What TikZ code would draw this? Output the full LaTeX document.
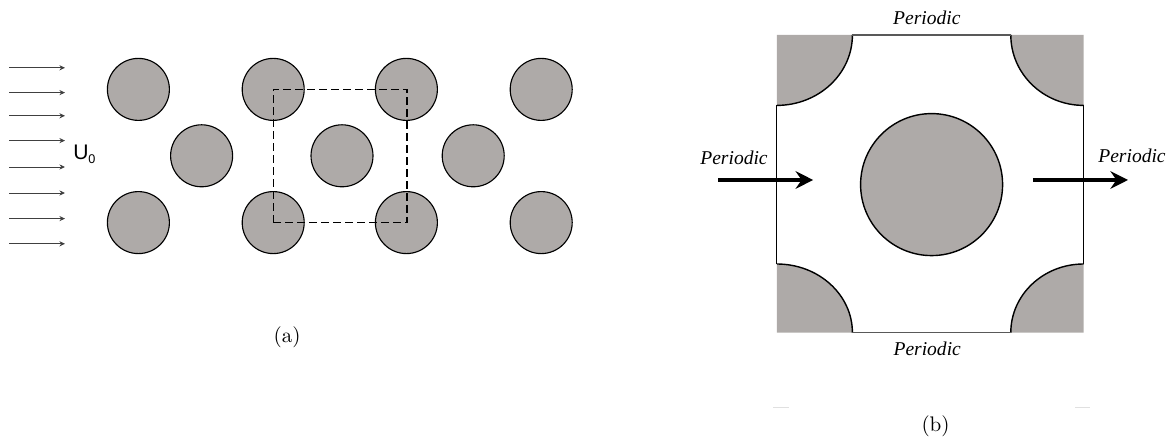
\documentclass[tikz,border=0pt]{standalone}
\usepackage{fontspec}
\usetikzlibrary{arrows.meta}
\newfontfamily\lblfont{Liberation Serif}
\newfontfamily\flowfont{Liberation Sans}
\definecolor{cylgray}{HTML}{AEAAA8}
\tikzset{
  cyl/.style={draw=black,fill=cylgray,line width=0.8pt},
  flow/.style={-{Stealth[length=1.4mm,width=1.3mm]},line width=0.6pt,black!75},
  bigflow/.style={-{Stealth[length=4.4mm,width=4.4mm,inset=1.5mm]},line width=2.5pt},
  wall/.style={line width=0.8pt},
  rim/.style={line width=1pt},
  lbl/.style={font=\lblfont\itshape\fontsize{13.9}{16}\selectfont},
  figcap/.style={scale=1.5,transform shape}
}
\begin{document}
\begin{tikzpicture}
\useasboundingbox (0,0) rectangle (29.35,10.975);
% inflow
\coordinate (a1) at (0.225,9.28);
\coordinate (b1) at (1.625,9.28);
\coordinate (a2) at (0.225,8.66);
\coordinate (b2) at (1.625,8.66);
\coordinate (a3) at (0.225,8.08);
\coordinate (b3) at (1.625,8.08);
\coordinate (a4) at (0.225,7.46);
\coordinate (b4) at (1.625,7.46);
\coordinate (a5) at (0.225,6.80);
\coordinate (b5) at (1.625,6.80);
\coordinate (a6) at (0.225,6.15);
\coordinate (b6) at (1.625,6.15);
\coordinate (a7) at (0.225,5.51);
\coordinate (b7) at (1.625,5.51);
\coordinate (a8) at (0.225,4.88);
\coordinate (b8) at (1.625,4.88);
\draw[flow] (a1)--(b1);
\draw[flow] (a2)--(b2);
\draw[flow] (a3)--(b3);
\draw[flow] (a4)--(b4);
\draw[flow] (a5)--(b5);
\draw[flow] (a6)--(b6);
\draw[flow] (a7)--(b7);
\draw[flow] (a8)--(b8);
\node (uzero) at (2.11,7.11) {\flowfont\fontsize{15}{18}\selectfont U\raisebox{-2.8pt}{\fontsize{9}{9}\selectfont 0}};
% tube bank
\filldraw[cyl] (3.46,8.74) circle (0.775);
\filldraw[cyl] (6.83,8.74) circle (0.775);
\filldraw[cyl] (10.16,8.74) circle (0.775);
\filldraw[cyl] (13.53,8.74) circle (0.775);
\filldraw[cyl] (5.04,7.08) circle (0.775);
\filldraw[cyl] (8.55,7.08) circle (0.775);
\filldraw[cyl] (11.83,7.08) circle (0.775);
\filldraw[cyl] (3.46,5.41) circle (0.775);
\filldraw[cyl] (6.83,5.41) circle (0.775);
\filldraw[cyl] (10.16,5.41) circle (0.775);
\filldraw[cyl] (13.53,5.41) circle (0.775);
\draw[line width=1pt,dash pattern=on 5.5pt off 3pt] (6.83,5.41) rectangle (10.17,8.74);
\node[figcap] (capa) at (7.18,2.55) {(a)};
% unit cell
\fill[cylgray] (19.42,10.10)--(21.31,10.10) arc (0:-90:1.89 and 1.76)--cycle;
\fill[cylgray] (27.09,10.10)--(25.27,10.10) arc (180:270:1.82 and 1.76)--cycle;
\fill[cylgray] (19.42,2.66)--(21.31,2.66) arc (0:90:1.89 and 1.715)--cycle;
\fill[cylgray] (27.09,2.66)--(25.27,2.66) arc (180:90:1.82 and 1.715)--cycle;
\draw[rim] (21.31,10.10) arc (0:-90:1.89 and 1.76);
\draw[rim] (25.27,10.10) arc (180:270:1.82 and 1.76);
\draw[rim] (21.31,2.66) arc (0:90:1.89 and 1.715);
\draw[rim] (25.27,2.66) arc (180:90:1.82 and 1.715);
\draw[wall,black!65] (21.31,10.10)--(25.27,10.10);
\draw[wall,black!65] (21.31,2.66)--(25.27,2.66);
\draw[wall] (19.42,8.34)--(19.42,4.375);
\draw[wall] (27.09,8.34)--(27.09,4.375);
\filldraw[cyl,line width=1pt] (23.29,6.36) circle (1.775);
\coordinate (ina) at (17.95,6.475);
\coordinate (inb) at (20.33,6.475);
\coordinate (outa) at (25.82,6.475);
\coordinate (outb) at (28.2,6.475);
\draw[bigflow] (ina)--(inb);
\draw[bigflow] (outa)--(outb);
\node[lbl] (ptop) at (23.17,10.525) {Periodic};
\node[lbl] (pleft) at (18.35,7.025) {Periodic};
\node[lbl] (pright) at (28.3,7.075) {Periodic};
\node[lbl] (pbot) at (23.18,2.25) {Periodic};
\draw[black!12,line width=0.5pt] (19.33,0.8)--(19.73,0.8);
\draw[black!12,line width=0.5pt] (26.88,0.8)--(27.25,0.8);
\node[figcap] (capb) at (23.39,0.31) {(b)};
\end{tikzpicture}
\end{document}
